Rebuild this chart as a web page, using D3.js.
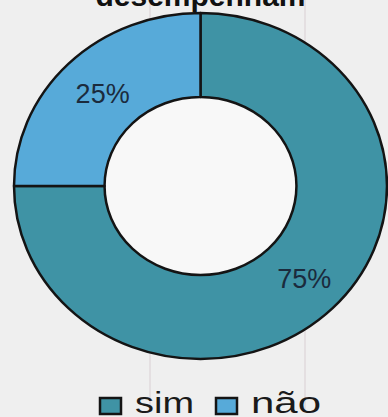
<!DOCTYPE html>
<html>
<head>
<meta charset="utf-8">
<script src="https://cdn.jsdelivr.net/npm/d3@7"></script>
<style>
  html, body { margin: 0; padding: 0; background: #efefef; }
  svg { display: block; }
</style>
</head>
<body>
<div id="chart"></div>
<script>
const categories = ["sim", "não"];
const values = [75, 25];
const labels = ["75%", "25%"];
const colors = ["#3f93a5", "#57aad9"];
const title = "desempenham";

const width = 388, height = 417;
const cx = 200.5, cy = 186;
const outerR = 173, innerR = 89;
const stretchX = 1.078;

const svg = d3.select("#chart").append("svg")
    .attr("width", width)
    .attr("height", height);

svg.append("rect")
    .attr("width", width).attr("height", height)
    .attr("fill", "#efefef");

// faint scan lines
[150, 305].forEach(x => {
    svg.append("line")
        .attr("x1", x).attr("x2", x)
        .attr("y1", 0).attr("y2", 410)
        .attr("stroke", "#d9cfd3")
        .attr("stroke-width", 1);
});

// title, cut at top edge
svg.append("text")
    .attr("x", cx)
    .attr("y", 6)
    .attr("text-anchor", "middle")
    .attr("font-family", "Liberation Sans, Arial, sans-serif")
    .attr("font-weight", "bold")
    .attr("font-size", 30)
    .attr("fill", "#111")
    .text(title);

const pie = d3.pie().sort(null).value(d => d);
const arcs = pie(values);

const arc = d3.arc().innerRadius(innerR).outerRadius(outerR);

const g = svg.append("g")
    .attr("transform", `translate(${cx},${cy}) scale(${stretchX},1)`);

g.append("circle")
    .attr("r", innerR)
    .attr("fill", "#f8f8f8");

g.selectAll("path.slice")
    .data(arcs)
    .join("path")
    .attr("class", "slice")
    .attr("d", arc)
    .attr("fill", (d, i) => colors[i])
    .attr("stroke", "#141414")
    .attr("stroke-width", 2.5)
    .attr("stroke-linejoin", "round")
    .attr("vector-effect", "non-scaling-stroke");

// percentage labels, kept outside the stretched group so text is not distorted
arcs.forEach((d, i) => {
    const [x, y] = arc.centroid(d);
    svg.append("text")
        .attr("x", cx + x * stretchX + (i === 0 ? 4 : 2))
        .attr("y", cy + y)
        .attr("dy", "0.36em")
        .attr("text-anchor", "middle")
        .attr("font-family", "Liberation Sans, Arial, sans-serif")
        .attr("font-size", 27)
        .attr("fill", "#1b2b3d")
        .text(labels[i]);
});

// legend
const legendX = [100, 216];
const legendTextW = [59, 70];
const legend = svg.append("g");
categories.forEach((c, i) => {
    legend.append("rect")
        .attr("x", legendX[i]).attr("y", 398)
        .attr("width", 21).attr("height", 16)
        .attr("fill", colors[i])
        .attr("stroke", "#141414")
        .attr("stroke-width", 2.5);
    legend.append("text")
        .attr("x", legendX[i] + 35)
        .attr("y", 413)
        .attr("font-family", "Liberation Sans, Arial, sans-serif")
        .attr("font-size", 29)
        .attr("textLength", legendTextW[i])
        .attr("lengthAdjust", "spacingAndGlyphs")
        .attr("fill", "#1a1a1a")
        .text(c);
});
</script>
</body>
</html>
